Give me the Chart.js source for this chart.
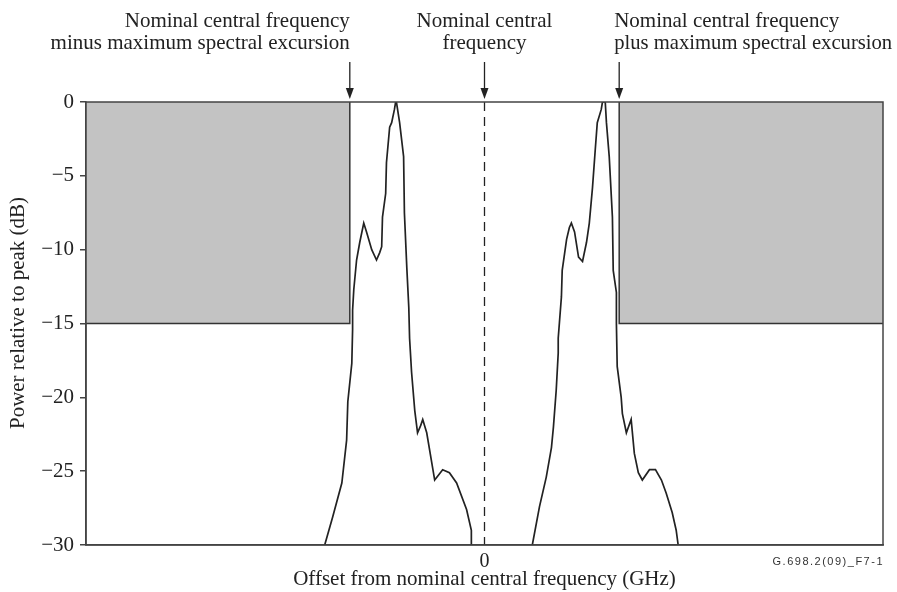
<!DOCTYPE html>
<html><head><meta charset="utf-8">
<script src="https://cdn.jsdelivr.net/npm/chart.js@4.4.1/dist/chart.umd.min.js"></script>
<style>html,body{margin:0;padding:0;background:#fff}#wrap{width:897px;height:592px}</style>
</head><body><div id="wrap"><canvas id="c" width="897" height="592"></canvas></div>
<script>
// Offset from nominal central frequency (arbitrary GHz units, centre = 0)
const excursion = 33.8;          // maximum spectral excursion
const maskLevel = -15;           // mask level (dB)
const yTicks = [0, -5, -10, -15, -20, -25, -30];
// Left spectrum (centred below nominal)
const leftX = [-40.1,-38.1,-35.8,-34.6,-34.3,-33.3,-33.1,-33.1,-32.8,-32.1,-31.3,-30.3,-29.6,-28.3,-27.1,-26.3,-25.8,-25.6,-24.8,-24.6,-23.8,-23.3,-22.6,-22.3,-22.1,-21.3,-20.3,-20.1,-19.5,-19.0,-18.8,-18.3,-17.5,-16.8,-16.0,-15.5,-14.5,-12.5,-10.5,-8.8,-7.0,-4.5,-3.3,-3.3];
const leftY = [-30,-28.1,-25.8,-22.9,-20.3,-17.7,-15.4,-14.1,-12.7,-10.7,-9.5,-8.2,-8.8,-10.0,-10.7,-10.2,-9.8,-7.8,-6.2,-4.1,-1.7,-1.4,-0.5,0,0,-1.4,-3.7,-7.5,-11.2,-13.9,-16.0,-18.3,-20.9,-22.4,-21.9,-21.5,-22.4,-25.6,-24.9,-25.1,-25.8,-27.6,-29.0,-30];
// Right spectrum (centred above nominal)
const rightX = [12.0,13.8,15.5,16.8,17.3,18.0,18.5,18.5,19.3,19.5,20.6,21.3,21.8,22.6,23.6,24.6,25.6,26.3,27.1,27.8,28.3,29.3,29.6,30.3,30.6,31.3,32.1,32.3,33.1,33.1,33.3,34.3,34.6,35.6,36.8,37.6,38.6,39.6,41.4,42.9,44.4,45.6,47.1,48.1,48.6];
const rightY = [-30,-27.4,-25.4,-23.4,-22.0,-19.5,-17.0,-16.0,-13.2,-11.4,-9.3,-8.5,-8.2,-8.8,-10.5,-10.8,-9.5,-8.2,-5.8,-3.2,-1.4,-0.5,0,0,-1.4,-3.7,-7.8,-11.4,-12.9,-15.0,-17.9,-20.0,-21.1,-22.4,-21.5,-23.8,-25.1,-25.6,-24.9,-24.9,-25.6,-26.5,-27.8,-29.0,-30];

const toPts = (xs, ys) => xs.map((x, i) => ({x, y: ys[i]}));
const FONT = "'Liberation Serif', 'DejaVu Serif', serif";
const INK = '#222';

const annot = {
  id: 'annot',
  afterDatasetsDraw(chart) {
    const {ctx, chartArea: a, scales: {x, y}} = chart;
    ctx.save();
    // frame
    ctx.strokeStyle = '#444'; ctx.lineWidth = 1.5;
    ctx.strokeRect(a.left, a.top, a.right - a.left, a.bottom - a.top);
    // arrows
    const xs = [-excursion, 0, excursion].map(v => x.getPixelForValue(v));
    ctx.strokeStyle = INK; ctx.fillStyle = INK; ctx.lineWidth = 1.3;
    xs.forEach(px => {
      ctx.beginPath(); ctx.moveTo(px, 62); ctx.lineTo(px, 90); ctx.stroke();
      ctx.beginPath(); ctx.moveTo(px - 4, 88); ctx.lineTo(px + 4, 88); ctx.lineTo(px, 99); ctx.closePath(); ctx.fill();
    });
    // labels
    ctx.font = '21px ' + FONT; ctx.textBaseline = 'alphabetic'; ctx.fillStyle = INK;
    ctx.textAlign = 'right';
    ctx.fillText('Nominal central frequency', xs[0], 27);
    ctx.fillText('minus maximum spectral excursion', xs[0], 49);
    ctx.textAlign = 'center';
    ctx.fillText('Nominal central', xs[1], 27);
    ctx.fillText('frequency', xs[1], 49);
    ctx.textAlign = 'left';
    ctx.fillText('Nominal central frequency', xs[2] - 5, 27);
    ctx.fillText('plus maximum spectral excursion', xs[2] - 5, 49, 278);
    // y axis title
    ctx.save();
    ctx.translate(18, 313); ctx.rotate(-Math.PI / 2);
    ctx.textAlign = 'center'; ctx.textBaseline = 'middle';
    ctx.fillText('Power relative to peak (dB)', 0, 0);
    ctx.restore();
    // figure id
    ctx.font = '11px "Liberation Sans", Arial, sans-serif'; ctx.textAlign = 'right'; ctx.textBaseline = 'middle'; ctx.fillStyle = '#333';
    ctx.letterSpacing = '1.5px';
    ctx.fillText('G.698.2(09)_F7-1', a.right + 1, 562);
    ctx.restore();
  }
};

new Chart(document.getElementById('c'), {
  type: 'scatter',
  data: {
    datasets: [
      {data: [{x:-100,y:maskLevel},{x:-excursion,y:maskLevel},{x:-excursion,y:0}], showLine:true, fill:{value:0}, backgroundColor:'#c3c3c3', borderColor:'#333', borderWidth:1.5, pointRadius:0},
      {data: [{x:excursion,y:0},{x:excursion,y:maskLevel},{x:100,y:maskLevel}], showLine:true, fill:{value:0}, backgroundColor:'#c3c3c3', borderColor:'#333', borderWidth:1.5, pointRadius:0},
      {data: [{x:0,y:0},{x:0,y:-30}], showLine:true, borderColor:INK, borderWidth:1.3, borderDash:[9,6], pointRadius:0},
      {data: toPts(leftX, leftY), showLine:true, borderColor:INK, borderWidth:1.7, pointRadius:0, tension:0},
      {data: toPts(rightX, rightY), showLine:true, borderColor:INK, borderWidth:1.7, pointRadius:0, tension:0}
    ]
  },
  options: {
    responsive:false, animation:false, events:[],
    layout:{padding:{left:0, right:14, top:102, bottom:0}},
    plugins:{legend:{display:false}, tooltip:{enabled:false}},
    scales:{
      x:{type:'linear', min:-100, max:100,
        afterBuildTicks: s => { s.ticks = [{value:0}]; },
        ticks:{color:INK, font:{family:FONT, size:20}, padding:5, maxRotation:0, callback: v => v === 0 ? '0' : ''},
        grid:{display:false, drawTicks:false},
        border:{display:true, color:'#444', width:1.5},
        title:{display:true, text:'Offset from nominal central frequency (GHz)', color:INK, font:{family:FONT, size:21}, padding:{top:-3, bottom:0}},
        afterFit: s => { s.height = 592 - 545; }
      },
      y:{type:'linear', min:-30, max:0,
        afterBuildTicks: s => { s.ticks = yTicks.map(v => ({value:v})); },
        ticks:{color:INK, font:{family:FONT, size:21}, padding:6, callback: v => v === 0 ? '0' : '\u2212' + Math.abs(v)},
        grid:{display:true, drawOnChartArea:false, drawTicks:true, tickLength:6, color:'#444', lineWidth:1.5},
        border:{display:true, color:'#444', width:1.5},
        title:{display:false},
        afterFit: s => { s.width = 86; }
      }
    }
  },
  plugins:[annot]
});
</script></body></html>
